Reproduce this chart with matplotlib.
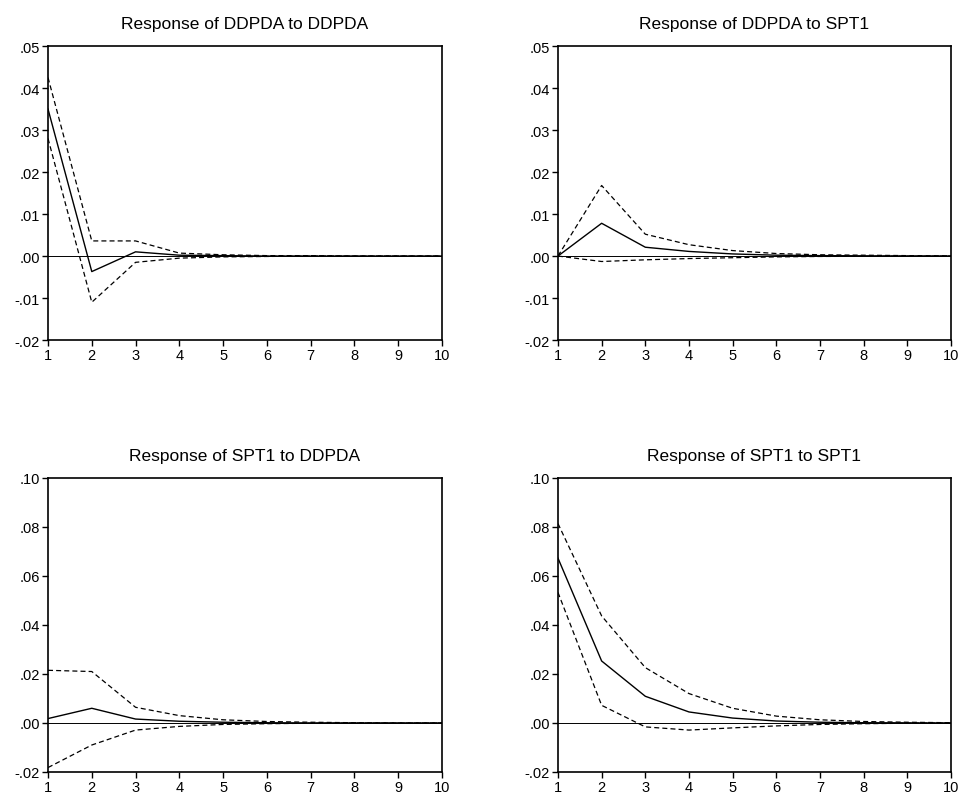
import matplotlib.pyplot as plt
from matplotlib.ticker import FuncFormatter, MultipleLocator

plt.rcParams['font.family'] = ['Liberation Sans', 'DejaVu Sans']

periods = list(range(1, 11))

# Response of DDPDA to DDPDA
resp_dd_dd = [0.0350, -0.0037, 0.0010, 0.0002, 0.0001, 0.0000, 0.0000, 0.0000, 0.0000, 0.0000]
upper_dd_dd = [0.0425, 0.0036, 0.0036, 0.0007, 0.0003, 0.0001, 0.0001, 0.0000, 0.0000, 0.0000]
lower_dd_dd = [0.0280, -0.0110, -0.0015, -0.0005, -0.0002, -0.0001, 0.0000, 0.0000, 0.0000, 0.0000]

# Response of DDPDA to SPT1
resp_dd_sp = [0.0000, 0.0078, 0.0021, 0.0011, 0.0005, 0.0002, 0.0001, 0.00005, 0.0000, 0.0000]
upper_dd_sp = [0.0000, 0.0168, 0.0052, 0.0027, 0.0013, 0.0006, 0.0003, 0.0002, 0.0001, 0.00005]
lower_dd_sp = [0.0000, -0.0013, -0.0009, -0.0006, -0.0004, -0.0002, -0.0001, -0.00005, 0.0000, 0.0000]

# Response of SPT1 to DDPDA
resp_sp_dd = [0.0018, 0.0060, 0.0016, 0.0007, 0.0003, 0.0001, 0.0000, 0.0000, 0.0000, 0.0000]
upper_sp_dd = [0.0215, 0.0210, 0.0064, 0.0030, 0.0013, 0.0006, 0.0003, 0.0001, 0.0000, 0.0000]
lower_sp_dd = [-0.0182, -0.0090, -0.0029, -0.0014, -0.0006, -0.0003, -0.0001, 0.0000, 0.0000, 0.0000]

# Response of SPT1 to SPT1
resp_sp_sp = [0.0673, 0.0253, 0.0109, 0.0045, 0.0020, 0.0008, 0.0003, 0.0001, 0.00005, 0.0000]
upper_sp_sp = [0.0814, 0.0437, 0.0226, 0.0120, 0.0060, 0.0028, 0.0013, 0.0006, 0.0003, 0.0001]
lower_sp_sp = [0.0533, 0.0072, -0.0016, -0.0029, -0.0020, -0.0012, -0.0006, -0.0003, -0.0001, 0.0000]

titles = ['Response of DDPDA to DDPDA', 'Response of DDPDA to SPT1',
          'Response of SPT1 to DDPDA', 'Response of SPT1 to SPT1']


def fmt(v, pos):
    # EViews style: drop the leading zero, e.g. -.01, .05
    s = '%.2f' % v
    if s == '-0.00':
        s = '0.00'
    return s.replace('0.', '.', 1)


fig = plt.figure(figsize=(9.64, 8.03), dpi=100)
rects = [
    [0.0498, 0.5753, 0.4087, 0.3661],
    [0.5788, 0.5753, 0.4077, 0.3661],
    [0.0498, 0.0374, 0.4087, 0.3661],
    [0.5788, 0.0374, 0.4077, 0.3661],
]
series = [
    (resp_dd_dd, upper_dd_dd, lower_dd_dd, (-0.02, 0.05), 0.01),
    (resp_dd_sp, upper_dd_sp, lower_dd_sp, (-0.02, 0.05), 0.01),
    (resp_sp_dd, upper_sp_dd, lower_sp_dd, (-0.02, 0.10), 0.02),
    (resp_sp_sp, upper_sp_sp, lower_sp_sp, (-0.02, 0.10), 0.02),
]

for rect, title, (resp, up, lo, ylim, step) in zip(rects, titles, series):
    ax = fig.add_axes(rect)
    ax.axhline(0, color='black', lw=0.7)
    ax.plot(periods, up, color='black', lw=0.9, ls=(0, (4, 2.5)))
    ax.plot(periods, lo, color='black', lw=0.9, ls=(0, (4, 2.5)))
    ax.plot(periods, resp, color='black', lw=1.0)
    ax.set_xlim(1, 10)
    ax.set_ylim(*ylim)
    ax.set_xticks(periods)
    ax.yaxis.set_major_locator(MultipleLocator(step))
    ax.yaxis.set_major_formatter(FuncFormatter(fmt))
    ax.tick_params(direction='out', length=4, width=1, labelsize=10.5,
                   top=False, right=False, pad=2)
    for sp in ax.spines.values():
        sp.set_linewidth(1.2)
    ax.set_title(title, fontsize=12.5, pad=13)

fig.savefig('out.png', dpi=100, facecolor='white')
